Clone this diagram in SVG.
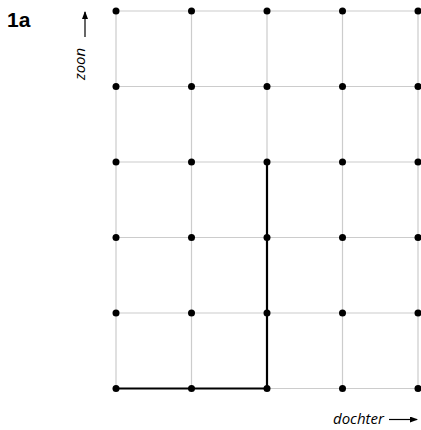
<svg xmlns="http://www.w3.org/2000/svg" width="421" height="430" viewBox="0 0 421 430">
<style>
.g{stroke:#cccccc;stroke-width:1.2;fill:none}
.p{stroke:#000;stroke-width:2.2;fill:none}
.d{fill:#000}
.lab{font-family:"Open Sans","Liberation Sans",sans-serif;font-style:italic;font-size:15px;fill:#000}
.ttl{font-family:"Liberation Sans",Arial,sans-serif;font-weight:bold;font-size:21px;fill:#000}
.ax{stroke:#000;stroke-width:1.2;fill:none}
</style>
<defs>
<marker id="ah" markerWidth="8" markerHeight="6" refX="7" refY="3" orient="auto" markerUnits="userSpaceOnUse">
<path d="M0,0 L8,3 L0,6 Z" fill="#000"/>
</marker>
</defs>
<rect width="421" height="430" fill="#fff"/>
<g id="grid">
<path class="g" d="M116,11V388.5M191.5,11V388.5M267,11V388.5M342.5,11V388.5M418,11V388.5"/>
<path class="g" d="M116,11H418M116,86.5H418M116,162H418M116,237.5H418M116,313H418M116,388.5H418"/>
</g>
<g id="connectors">
<path class="p" d="M116,388.5H267V162"/>
</g>
<g id="dots">
<g class="d">
<circle cx="116" cy="11" r="3.5"/><circle cx="191.5" cy="11" r="3.5"/><circle cx="267" cy="11" r="3.5"/><circle cx="342.5" cy="11" r="3.5"/><circle cx="418" cy="11" r="3.5"/>
<circle cx="116" cy="86.5" r="3.5"/><circle cx="191.5" cy="86.5" r="3.5"/><circle cx="267" cy="86.5" r="3.5"/><circle cx="342.5" cy="86.5" r="3.5"/><circle cx="418" cy="86.5" r="3.5"/>
<circle cx="116" cy="162" r="3.5"/><circle cx="191.5" cy="162" r="3.5"/><circle cx="267" cy="162" r="3.5"/><circle cx="342.5" cy="162" r="3.5"/><circle cx="418" cy="162" r="3.5"/>
<circle cx="116" cy="237.5" r="3.5"/><circle cx="191.5" cy="237.5" r="3.5"/><circle cx="267" cy="237.5" r="3.5"/><circle cx="342.5" cy="237.5" r="3.5"/><circle cx="418" cy="237.5" r="3.5"/>
<circle cx="116" cy="313" r="3.5"/><circle cx="191.5" cy="313" r="3.5"/><circle cx="267" cy="313" r="3.5"/><circle cx="342.5" cy="313" r="3.5"/><circle cx="418" cy="313" r="3.5"/>
<circle cx="116" cy="388.5" r="3.5"/><circle cx="191.5" cy="388.5" r="3.5"/><circle cx="267" cy="388.5" r="3.5"/><circle cx="342.5" cy="388.5" r="3.5"/><circle cx="418" cy="388.5" r="3.5"/>
</g>
</g>
<g id="title"><text class="ttl" x="7" y="27">1a</text></g>
<g id="yaxis">
<text class="lab" transform="translate(85,80) rotate(-90)">zoon</text>
<path class="ax" d="M85,37V12" marker-end="url(#ah)"/>
</g>
<g id="xaxis">
<text class="lab" x="333" y="424">dochter</text>
<path class="ax" d="M389,419.5H417" marker-end="url(#ah)"/>
</g>
</svg>
